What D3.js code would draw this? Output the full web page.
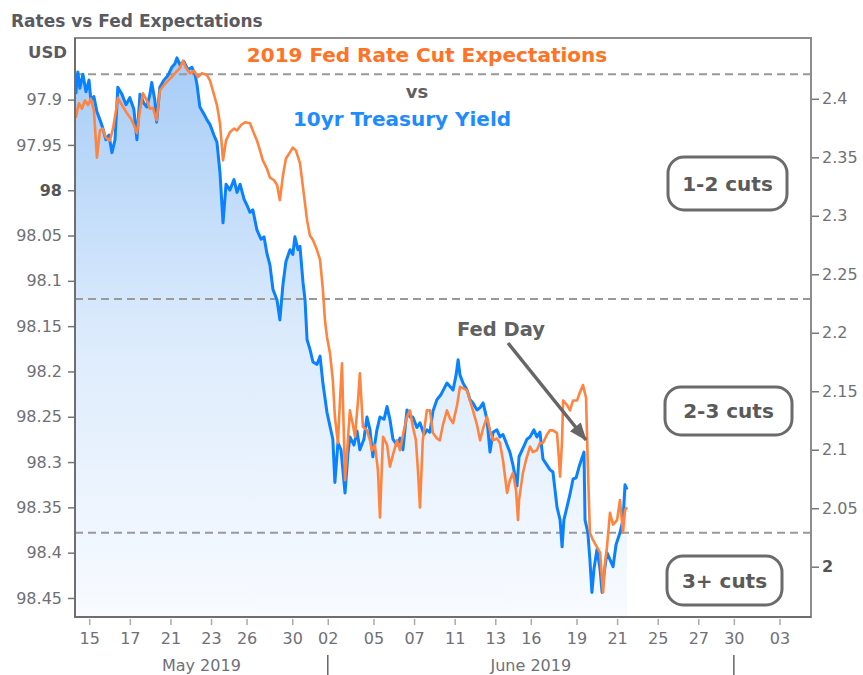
<!DOCTYPE html>
<html>
<head>
<meta charset="utf-8">
<script src="https://cdnjs.cloudflare.com/ajax/libs/d3/7.8.5/d3.min.js"></script>
<style>
  body { margin: 0; background: #fff; }
  svg { display: block; font-family: "DejaVu Sans", Verdana, sans-serif; }
</style>
</head>
<body>
<script>
// time is in trading days from May 15 (weekends and Memorial Day collapsed)
const xTickDays = [0, 2, 4, 6, 7.75, 10, 11.75, 14, 16, 18, 20, 21.75, 24, 26, 28, 30, 31.75, 34];
const xTickLabels = ["15", "17", "21", "23", "26", "30", "02", "05", "07", "11", "13", "16", "19", "21", "25", "27", "30", "03"];
const monthNames = ["May 2019", "June 2019"];
const monthStarts = [-0.7, 11.75];
const monthEnds = [11.75, 31.75];

const leftTicks = [97.9, 97.95, 98, 98.05, 98.1, 98.15, 98.2, 98.25, 98.3, 98.35, 98.4, 98.45];
const rightTicks = [2.4, 2.35, 2.3, 2.25, 2.2, 2.15, 2.1, 2.05, 2];
const cutLevels = [97.872, 98.12, 98.378]; // fed funds futures thresholds
const cutLabels = ["1-2 cuts", "2-3 cuts", "3+ cuts"];

// 10yr Treasury yield (right axis)
const blueT = [-0.66, -0.56, -0.46, -0.31, -0.16, -0.01, 0.08, 0.23, 0.38, 0.53, 0.67, 0.82, 0.97, 1.12, 1.27, 1.41, 1.61, 1.81, 2.00, 2.20,
  2.35, 2.50, 2.70, 2.84, 2.99, 3.08, 3.23, 3.32, 3.48, 3.68, 3.88, 4.07, 4.22, 4.32, 4.47, 4.66, 4.86, 5.06, 5.21, 5.31,
  5.45, 5.65, 5.80, 5.95, 6.14, 6.29, 6.44, 6.59, 6.74, 6.93, 7.13, 7.28, 7.43, 7.63, 7.77, 7.92, 8.06, 8.26, 8.46, 8.61,
  8.75, 8.90, 9.05, 9.25, 9.39, 9.54, 9.69, 9.89, 10.03, 10.13, 10.28, 10.38, 10.53, 10.63, 10.73, 10.87, 11.02, 11.22, 11.37, 11.51,
  11.71, 11.86, 12.00, 12.10, 12.25, 12.40, 12.60, 12.74, 12.84, 13.04, 13.19, 13.33, 13.53, 13.68, 13.83, 13.97, 14.17, 14.32, 14.52, 14.67,
  14.81, 14.96, 15.16, 15.31, 15.45, 15.65, 15.80, 15.94, 16.14, 16.29, 16.49, 16.63, 16.78, 16.93, 17.13, 17.32, 17.47, 17.62, 17.77, 17.92,
  18.07, 18.17, 18.26, 18.41, 18.61, 18.75, 18.90, 19.10, 19.25, 19.40, 19.59, 19.74, 19.89, 20.08, 20.23, 20.38, 20.58, 20.72, 20.87, 21.07,
  21.17, 21.41, 21.56, 21.71, 21.90, 22.05, 22.20, 22.35, 22.54, 22.69, 22.84, 23.04, 23.19, 23.29, 23.38, 23.53, 23.68, 23.83, 23.98, 24.12,
  24.27, 24.37, 24.42, 24.56, 24.66, 24.76, 24.86, 25.01, 25.16, 25.26, 25.35, 25.50, 25.65, 25.80, 25.95, 26.14, 26.29, 26.39, 26.49];
const blueYield = [2.404, 2.423, 2.409, 2.421, 2.406, 2.416, 2.399, 2.402, 2.389, 2.382, 2.375, 2.365, 2.369, 2.354, 2.365, 2.410, 2.404, 2.395, 2.401, 2.391,
  2.365, 2.404, 2.396, 2.393, 2.404, 2.414, 2.399, 2.380, 2.410, 2.416, 2.420, 2.427, 2.430, 2.435, 2.429, 2.432, 2.425, 2.427, 2.421, 2.412,
  2.393, 2.387, 2.382, 2.378, 2.369, 2.363, 2.337, 2.294, 2.327, 2.322, 2.331, 2.320, 2.327, 2.314, 2.309, 2.303, 2.305, 2.288, 2.280, 2.282,
  2.268, 2.258, 2.237, 2.228, 2.211, 2.241, 2.261, 2.271, 2.267, 2.282, 2.271, 2.274, 2.243, 2.228, 2.194, 2.186, 2.175, 2.173, 2.180, 2.157,
  2.132, 2.120, 2.109, 2.072, 2.106, 2.100, 2.063, 2.096, 2.111, 2.104, 2.116, 2.100, 2.109, 2.128, 2.117, 2.094, 2.117, 2.128, 2.126, 2.137,
  2.126, 2.109, 2.104, 2.110, 2.100, 2.134, 2.128, 2.128, 2.119, 2.123, 2.113, 2.117, 2.115, 2.133, 2.143, 2.147, 2.152, 2.157, 2.154, 2.151,
  2.164, 2.177, 2.164, 2.157, 2.151, 2.143, 2.140, 2.134, 2.136, 2.140, 2.126, 2.098, 2.115, 2.117, 2.111, 2.113, 2.104, 2.098, 2.087, 2.069,
  2.094, 2.103, 2.109, 2.111, 2.117, 2.111, 2.115, 2.092, 2.087, 2.083, 2.081, 2.051, 2.040, 2.017, 2.040, 2.051, 2.062, 2.075, 2.076, 2.085,
  2.093, 2.098, 2.040, 2.029, 2.006, 1.978, 1.998, 2.015, 1.998, 1.978, 1.993, 2.012, 2.006, 2.000, 2.019, 2.029, 2.040, 2.070, 2.066];

// 2019 fed funds futures, USD (left axis, inverted)
const orangeT = [-0.66, -0.51, -0.36, -0.21, -0.06, 0.08, 0.23, 0.38, 0.53, 0.67, 0.82, 1.02, 1.17, 1.32, 1.41, 1.61, 1.86, 2.05, 2.20, 2.35,
  2.50, 2.65, 2.84, 2.99, 3.14, 3.32, 3.48, 3.68, 3.88, 4.07, 4.27, 4.47, 4.62, 4.76, 4.96, 5.16, 5.35, 5.55, 5.80, 5.95,
  6.09, 6.29, 6.44, 6.59, 6.74, 6.93, 7.13, 7.28, 7.48, 7.68, 7.92, 8.11, 8.26, 8.41, 8.55, 8.75, 8.90, 9.10, 9.25, 9.39,
  9.54, 9.69, 9.89, 10.03, 10.18, 10.38, 10.58, 10.73, 10.87, 11.02, 11.22, 11.37, 11.51, 11.61, 11.71, 11.86, 12.00, 12.10, 12.25, 12.35,
  12.45, 12.60, 12.74, 12.84, 12.99, 13.09, 13.24, 13.33, 13.48, 13.68, 13.83, 13.92, 14.07, 14.22, 14.32, 14.47, 14.67, 14.81, 14.96, 15.16,
  15.31, 15.50, 15.65, 15.80, 15.94, 16.09, 16.19, 16.29, 16.43, 16.63, 16.78, 16.93, 17.13, 17.27, 17.42, 17.62, 17.77, 17.92, 18.12, 18.26,
  18.46, 18.61, 18.75, 18.90, 19.10, 19.25, 19.40, 19.59, 19.74, 19.89, 20.08, 20.23, 20.38, 20.58, 20.72, 20.87, 21.02, 21.12, 21.17, 21.36,
  21.51, 21.71, 21.85, 22.05, 22.20, 22.35, 22.54, 22.69, 22.84, 23.04, 23.14, 23.19, 23.29, 23.34, 23.53, 23.68, 23.83, 24.03, 24.17, 24.32,
  24.47, 24.56, 24.66, 24.81, 24.96, 25.16, 25.31, 25.40, 25.50, 25.65, 25.80, 26.00, 26.14, 26.29, 26.39, 26.49];
const orangeFut = [97.920, 97.904, 97.910, 97.901, 97.906, 97.899, 97.912, 97.964, 97.934, 97.932, 97.942, 97.945, 97.932, 97.912, 97.898, 97.906, 97.915, 97.921, 97.928, 97.937,
  97.912, 97.893, 97.901, 97.910, 97.909, 97.923, 97.890, 97.884, 97.879, 97.875, 97.870, 97.865, 97.857, 97.865, 97.871, 97.868, 97.875, 97.871, 97.873, 97.879,
  97.890, 97.906, 97.926, 97.967, 97.945, 97.936, 97.932, 97.934, 97.928, 97.925, 97.926, 97.937, 97.945, 97.956, 97.967, 97.976, 97.986, 97.989, 97.994, 98.011,
  97.984, 97.965, 97.958, 97.953, 97.956, 97.970, 98.006, 98.033, 98.050, 98.055, 98.066, 98.077, 98.110, 98.143, 98.162, 98.180, 98.210, 98.250, 98.279, 98.232,
  98.191, 98.320, 98.276, 98.243, 98.259, 98.272, 98.232, 98.202, 98.261, 98.265, 98.276, 98.287, 98.281, 98.309, 98.361, 98.272, 98.281, 98.305, 98.292, 98.276,
  98.287, 98.265, 98.250, 98.243, 98.261, 98.276, 98.309, 98.350, 98.276, 98.243, 98.243, 98.268, 98.274, 98.276, 98.259, 98.243, 98.252, 98.257, 98.237, 98.217,
  98.219, 98.221, 98.232, 98.243, 98.259, 98.276, 98.263, 98.250, 98.265, 98.276, 98.274, 98.279, 98.298, 98.334, 98.320, 98.312, 98.331, 98.364, 98.342, 98.312,
  98.298, 98.283, 98.289, 98.287, 98.279, 98.279, 98.270, 98.265, 98.265, 98.268, 98.298, 98.316, 98.276, 98.232, 98.237, 98.243, 98.232, 98.232, 98.223, 98.215,
  98.229, 98.305, 98.378, 98.386, 98.392, 98.400, 98.444, 98.413, 98.394, 98.356, 98.369, 98.364, 98.342, 98.378, 98.353, 98.350];

const w = 863;
const h = 675;
const plot = { left: 75, right: 811, top: 38, bottom: 617 };

const svg = d3.select("body")
  .append("svg")
  .attr("width", w)
  .attr("height", h);

const xScale = d3.scaleLinear()
  .domain([-0.7, 35.55])
  .range([plot.left, plot.right]);
const yLeft = d3.scaleLinear()
  .domain([97.832, 98.471])
  .range([plot.top, plot.bottom]);
const yRight = d3.scaleLinear()
  .domain([2.452, 1.957])
  .range([plot.top, plot.bottom]);

const defs = svg.append("defs");
const grad = defs.append("linearGradient")
  .attr("id", "blueFill")
  .attr("gradientUnits", "userSpaceOnUse")
  .attr("x1", 0).attr("x2", 0)
  .attr("y1", 55).attr("y2", plot.bottom);
grad.append("stop").attr("offset", 0).attr("stop-color", "#a6ccf7");
grad.append("stop").attr("offset", 0.5).attr("stop-color", "#dcebfc");
grad.append("stop").attr("offset", 1).attr("stop-color", "#f8fbff");

defs.append("clipPath").attr("id", "plotClip")
  .append("rect")
  .attr("x", plot.left).attr("y", plot.top)
  .attr("width", plot.right - plot.left)
  .attr("height", plot.bottom - plot.top);

defs.append("marker")
  .attr("id", "arrowHead")
  .attr("markerUnits", "userSpaceOnUse")
  .attr("markerWidth", 20).attr("markerHeight", 16)
  .attr("refX", 17).attr("refY", 7)
  .attr("orient", "auto")
  .append("path")
  .attr("d", "M0,0 L18,7 L0,14 Z")
  .attr("fill", "#666");

const blueData = d3.zip(blueT, blueYield);
const orangeData = d3.zip(orangeT, orangeFut);

const chart = svg.append("g").attr("clip-path", "url(#plotClip)");

// shaded area under the yield line
chart.append("path")
  .datum(blueData)
  .attr("fill", "url(#blueFill)")
  .attr("d", d3.area()
    .x(d => xScale(d[0]))
    .y0(plot.bottom)
    .y1(d => yRight(d[1])));

// rate cut thresholds
chart.selectAll("line.cut")
  .data(cutLevels)
  .enter()
  .append("line")
  .attr("class", "cut")
  .attr("x1", plot.left).attr("x2", plot.right)
  .attr("y1", d => yLeft(d)).attr("y2", d => yLeft(d))
  .attr("stroke", "#999")
  .attr("stroke-width", 2)
  .attr("stroke-dasharray", "8,5");

chart.append("path")
  .datum(blueData)
  .attr("fill", "none")
  .attr("stroke", "#0a82ff")
  .attr("stroke-width", 3)
  .attr("stroke-linejoin", "round")
  .attr("d", d3.line().x(d => xScale(d[0])).y(d => yRight(d[1])));

chart.append("path")
  .datum(orangeData)
  .attr("fill", "none")
  .attr("stroke", "#ff8440")
  .attr("stroke-width", 2.6)
  .attr("stroke-linejoin", "round")
  .attr("d", d3.line().x(d => xScale(d[0])).y(d => yLeft(d[1])));

// frame
svg.append("rect")
  .attr("x", plot.left).attr("y", plot.top)
  .attr("width", plot.right - plot.left)
  .attr("height", plot.bottom - plot.top)
  .attr("fill", "none")
  .attr("stroke", "#8c8c8c")
  .attr("stroke-width", 2);
svg.append("path")
  .attr("d", `M${plot.left},${plot.top} V${plot.bottom} H${plot.right}`)
  .attr("fill", "none")
  .attr("stroke", "#6e6e6e")
  .attr("stroke-width", 2);

const tickColor = "#707078";

function styleAxis(g) {
  g.select(".domain").remove();
  g.selectAll(".tick line").attr("stroke", "#777").attr("stroke-width", 1.5);
  g.selectAll(".tick text")
    .attr("fill", tickColor)
    .style("font-size", "16px")
    .style("font-family", "'DejaVu Sans', Verdana, sans-serif");
}

const leftAxis = svg.append("g")
  .attr("transform", `translate(${plot.left - 1}, 0)`)
  .call(d3.axisLeft(yLeft).tickValues(leftTicks).tickSize(6).tickPadding(6).tickFormat(d => String(d)))
  .call(styleAxis);
leftAxis.selectAll(".tick text").filter(d => d === 98)
  .attr("font-weight", "bold").attr("fill", "#555");

const rightAxis = svg.append("g")
  .attr("transform", `translate(${plot.right + 1}, 0)`)
  .call(d3.axisRight(yRight).tickValues(rightTicks).tickSize(7).tickPadding(3).tickFormat(d => String(d)))
  .call(styleAxis);
rightAxis.selectAll(".tick text").filter(d => d === 2)
  .attr("font-weight", "bold").attr("fill", "#555");

const bottomAxis = svg.append("g")
  .attr("transform", `translate(0, ${plot.bottom + 2})`)
  .call(d3.axisBottom(xScale).tickValues(xTickDays).tickSize(6).tickPadding(7.5)
    .tickFormat((d, i) => xTickLabels[i]))
  .call(styleAxis);
bottomAxis.selectAll(".tick line").attr("stroke", "#aaa");

// month labels and separators
monthNames.forEach((name, i) => {
  svg.append("text")
    .attr("x", (xScale(monthStarts[i]) + xScale(monthEnds[i])) / 2)
    .attr("y", 671)
    .attr("text-anchor", "middle")
    .attr("fill", tickColor)
    .style("font-size", "16px")
    .text(name);
  svg.append("line")
    .attr("x1", xScale(monthEnds[i])).attr("x2", xScale(monthEnds[i]))
    .attr("y1", 655).attr("y2", h)
    .attr("stroke", "#666")
    .attr("stroke-width", 1.5);
});

// titles
svg.append("text")
  .attr("x", 11).attr("y", 27)
  .attr("fill", "#5a5a62")
  .attr("font-weight", "bold")
  .style("font-size", "17px")
  .text("Rates vs Fed Expectations");

svg.append("text")
  .attr("x", 67).attr("y", 58)
  .attr("text-anchor", "end")
  .attr("fill", "#5a5a62")
  .attr("font-weight", "bold")
  .style("font-size", "16.5px")
  .text("USD");

svg.append("text")
  .attr("x", 427).attr("y", 61.5)
  .attr("text-anchor", "middle")
  .attr("fill", "#ff7326")
  .attr("font-weight", "bold")
  .style("font-size", "20px")
  .text("2019 Fed Rate Cut Expectations");

svg.append("text")
  .attr("x", 417).attr("y", 98)
  .attr("text-anchor", "middle")
  .attr("fill", "#5f5f5f")
  .attr("font-weight", "bold")
  .style("font-size", "18px")
  .text("vs");

svg.append("text")
  .attr("x", 402).attr("y", 126)
  .attr("text-anchor", "middle")
  .attr("fill", "#1e8cff")
  .attr("font-weight", "bold")
  .style("font-size", "20px")
  .text("10yr Treasury Yield");

// cut zone boxes
const boxX = [668, 665, 667];
const boxY = [157, 387, 556];
const boxW = [119, 127, 115];
const boxH = [53, 48, 49];
cutLabels.forEach((label, i) => {
  svg.append("rect")
    .attr("x", boxX[i]).attr("y", boxY[i])
    .attr("width", boxW[i]).attr("height", boxH[i])
    .attr("rx", 16).attr("ry", 16)
    .attr("fill", "#fff")
    .attr("stroke", "#6b6b6b")
    .attr("stroke-width", 3);
  svg.append("text")
    .attr("x", boxX[i] + boxW[i] / 2)
    .attr("y", boxY[i] + boxH[i] / 2 + 7)
    .attr("text-anchor", "middle")
    .attr("fill", "#5a5a5a")
    .attr("font-weight", "bold")
    .style("font-size", "20px")
    .text(label);
});

// Fed Day annotation
svg.append("text")
  .attr("x", 501).attr("y", 336)
  .attr("text-anchor", "middle")
  .attr("fill", "#616161")
  .attr("font-weight", "bold")
  .style("font-size", "19.5px")
  .text("Fed Day");
svg.append("line")
  .attr("x1", 508).attr("y1", 343)
  .attr("x2", 586).attr("y2", 440)
  .attr("stroke", "#666")
  .attr("stroke-width", 3.5)
  .attr("marker-end", "url(#arrowHead)");
</script>
</body>
</html>
